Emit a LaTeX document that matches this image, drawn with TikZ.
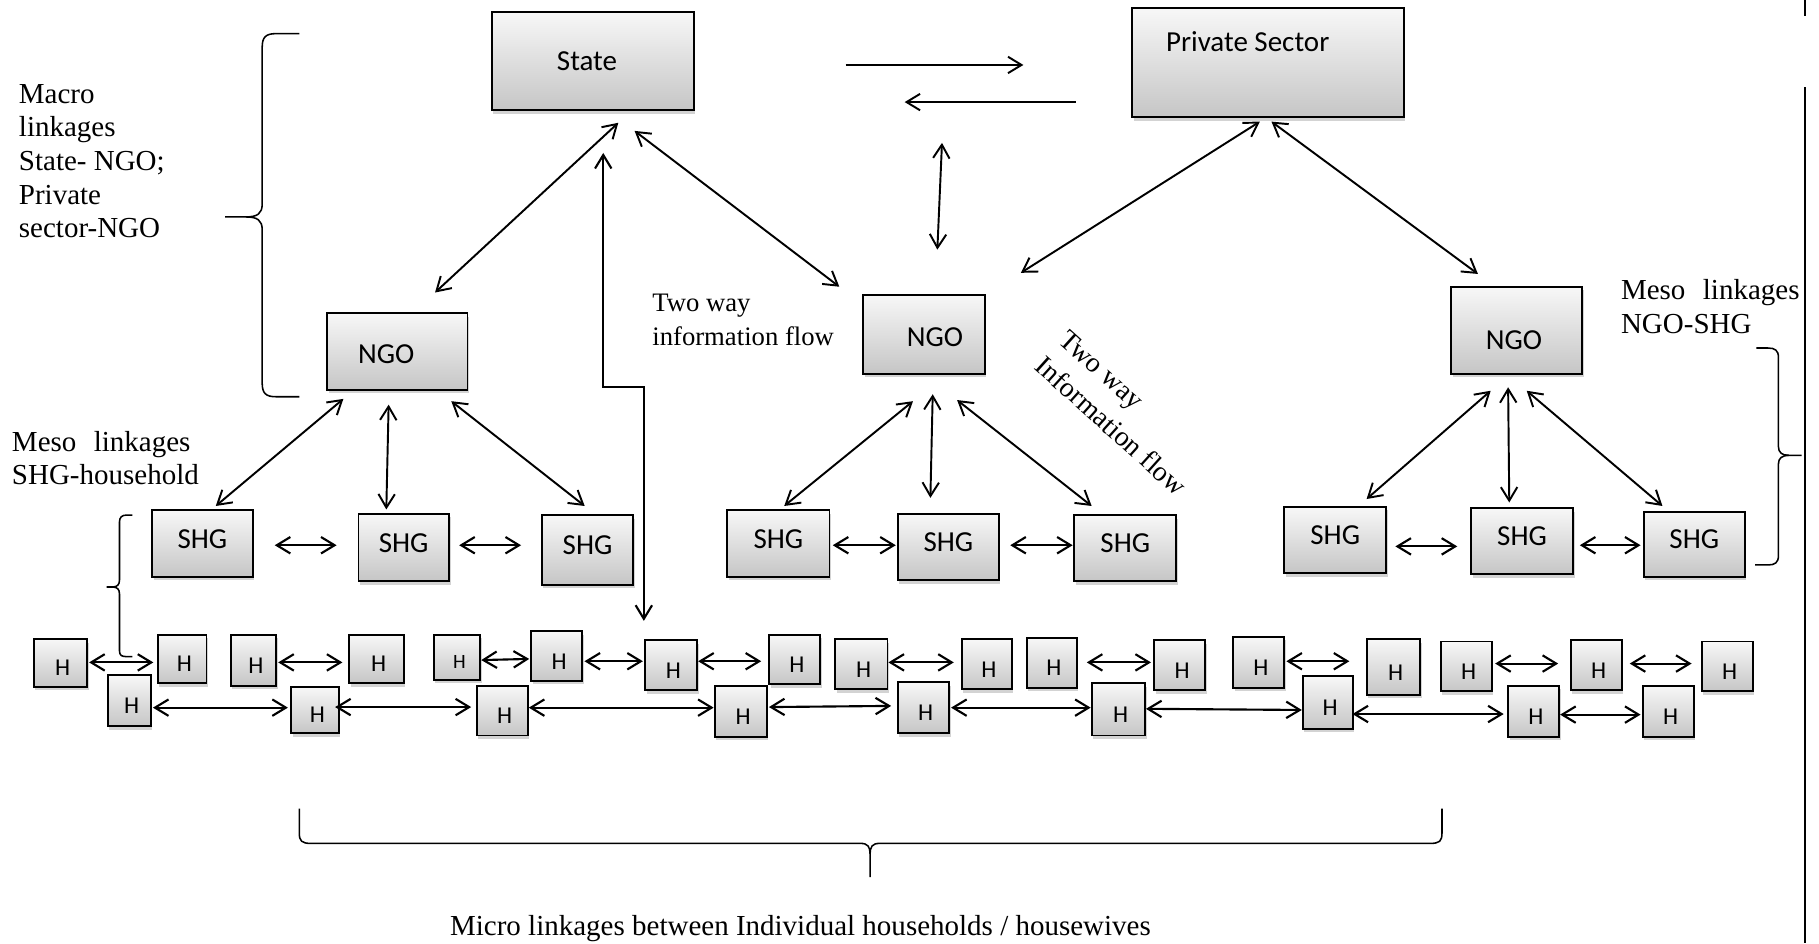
\documentclass[tikz,border=0pt]{standalone}
\usepackage{fontspec}
\setmainfont{Liberation Serif}
\newfontfamily\calfont{Carlito}
\usetikzlibrary{arrows.meta,shadows,fit,calc}
\begin{document}
\begin{tikzpicture}[x=0.6pt,y=-0.6pt,
 box/.style={draw=black, line width=1pt, top color=gray!6, bottom color=gray!45, inner sep=0pt,
   drop shadow={opacity=0.35, shadow xshift=0.8pt, shadow yshift=-1.8pt}},
 btext/.style={font=\calfont\fontsize{15}{18}\selectfont, inner sep=0pt},
 htext/.style={font=\calfont\fontsize{12.5}{15}\selectfont, inner sep=0pt, xshift=1.2pt, yshift=-2.7pt},
 hbox/.style={box, label={[htext]center:H}},
 shgbox/.style={box, label={[btext, yshift=2.4pt]center:SHG}},
 dbl/.style={{Straight Barb[length=7pt,width=8.5pt]}-{Straight Barb[length=7pt,width=8.5pt]}, line width=1pt},
 sgl/.style={-{Straight Barb[length=7pt,width=8.5pt]}, line width=1pt},
 hdbl/.style={dbl, line width=1.1pt},
 brc/.style={line width=0.8pt},
 border/.style={line width=1pt},
 serif/.style={font=\fontsize{15}{17.4}\selectfont, align=left, inner sep=0pt},
 serifs/.style={font=\fontsize{13.8}{17.4}\selectfont, align=left, inner sep=0pt},
]
\useasboundingbox (0,0) rectangle (1568,813);

% ---------- main boxes ----------
\node[box, fit={(424,10) (598,95)}, label={[btext, xshift=-3pt]center:State}] (state) {};
\node[box, fit={(976,7) (1210,101)}, label={[btext, xshift=-10.5pt, yshift=10.8pt]center:Private Sector}] (ps) {};
\node[box, fit={(282,270) (403,336)}, label={[btext, xshift=-5.7pt, yshift=-1.2pt]center:NGO}] (ngo1) {};
\node[box, fit={(744,254) (849,322)}, label={[btext, xshift=5.7pt, yshift=-1.8pt]center:NGO}] (ngo2) {};
\node[box, fit={(1251,247) (1364,322)}, label={[btext, xshift=-1.5pt, yshift=-5pt]center:NGO}] (ngo3) {};

% ---------- SHG boxes ----------
\node[shgbox, fit={(131,440) (218,497)}] (shg1) {};
\node[shgbox, fit={(309,443) (387,501)}] (shg2) {};
\node[shgbox, fit={(467,444) (546,504)}] (shg3) {};
\node[shgbox, fit={(627,440) (715,497)}] (shg4) {};
\node[shgbox, fit={(774,443) (861,500)}] (shg5) {};
\node[shgbox, fit={(926,444) (1014,501)}] (shg6) {};
\node[shgbox, fit={(1107,437) (1195,494)}] (shg7) {};
\node[shgbox, fit={(1268,438) (1356,495)}] (shg8) {};
\node[shgbox, fit={(1417,441) (1504,497)}] (shg9) {};

% ---------- H boxes, upper row ----------
\node[hbox, fit={(29,551) (75,592)}] (h1) {};
\node[hbox, fit={(136,547) (178,589)}] (h2) {};
\node[hbox, fit={(199,547) (238,591)}] (h3) {};
\node[hbox, fit={(301,547) (348,589)}] (h4) {};
\node[box, fit={(374,547) (414,586)}, label={[htext, font=\calfont\fontsize{10.5}{12}\selectfont]center:H}] (h5) {};
\node[hbox, fit={(458,544) (502,587)}] (h6) {};
\node[hbox, fit={(556,552) (601,595)}] (h7) {};
\node[hbox, fit={(663,547) (707,590)}] (h8) {};
\node[hbox, fit={(720,551) (765,594)}] (h9) {};
\node[hbox, fit={(829,551) (872,594)}] (h10) {};
\node[hbox, fit={(885,550) (928,593)}] (h11) {};
\node[hbox, fit={(995,552) (1039,595)}] (h12) {};
\node[hbox, fit={(1063,549) (1107,593)}] (h13) {};
\node[hbox, fit={(1178,551) (1224,599)}] (h14) {};
\node[hbox, fit={(1242,553) (1286,596)}] (h15) {};
\node[hbox, fit={(1354,552) (1398,595)}] (h16) {};
\node[hbox, fit={(1467,553) (1511,596)}] (h17) {};

% ---------- H boxes, lower row ----------
\node[hbox, fit={(93,582) (130,626)}] (b1) {};
\node[hbox, fit={(251,592) (292,632)}] (b2) {};
\node[hbox, fit={(411,591) (455,634)}] (b3) {};
\node[hbox, fit={(616,591) (661,635)}] (b4) {};
\node[hbox, fit={(774,588) (818,632)}] (b5) {};
\node[hbox, fit={(941,589) (987,634)}] (b6) {};
\node[hbox, fit={(1123,583) (1166,628)}] (b7) {};
\node[hbox, fit={(1300,591) (1344,635)}] (b8) {};
\node[hbox, fit={(1416,591) (1460,635)}] (b9) {};

% ---------- texts ----------
\node[serif, anchor=west] (macro) at (16,139) {Macro\\linkages\\State- NGO;\\Private\\sector-NGO};
\node[serif, anchor=west] (mesoL) at (10,395) {Meso\hspace{0.6em}linkages\\SHG-household};
\node[serif, anchor=west] (mesoR) at (1397,264) {Meso\hspace{0.6em}linkages\\NGO-SHG};
\node[serifs, anchor=west] (twoway) at (562,276) {Two way\\information flow};
\node[font=\fontsize{14.5}{18.5}\selectfont, align=left, inner sep=0pt, rotate=-42] (twoway2) at (968,356) {Two way\\Information flow};
\node[serif] (micro) at (690,800) {Micro linkages between Individual households / housewives};

% ---------- top-level connectors ----------
\draw[sgl] ($(state.east)+(130,3.5)$) -- ($(ps.west)+(-93,2)$);
\draw[sgl] ($(ps.west)+(-48,34)$) -- ($(state.east)+(181,35.5)$);
\draw[dbl] ($(ngo2.north)+(15.5,-130)$) -- ($(ngo2.north)+(11.5,-38)$);
\draw[dbl] ($(state.south)+(22,10)$) -- ($(ngo1.north)+(32.5,-17)$);
\draw[dbl] ($(state.south)+(36,17)$) -- ($(ngo2.north)+(-73,-6)$);
\draw[hdbl] ($(state.south)+(9,36)$) -- ++(0,202) -| ($(h7.north)+(-23.5,-16)$);
\draw[dbl] ($(ps.south)+(-7,3)$) -- ($(ngo2.north)+(83.5,-18)$);
\draw[dbl] ($(ps.south)+(3,3)$) -- ($(ngo3.north)+(-33.5,-10)$);

% ---------- NGO to SHG ----------
\draw[dbl] ($(ngo1.south)+(-46.5,7)$) -- ($(shg1.north)+(11.5,-3)$);
\draw[dbl] ($(ngo1.south)+(-7.5,12)$) -- ($(shg2.north)+(-15,-3)$);
\draw[dbl] ($(ngo1.south)+(46.5,9)$) -- ($(shg3.north)+(-2.5,-7)$);
\draw[dbl] ($(ngo2.south)+(-9.5,23)$) -- ($(shg4.north)+(5,-3)$);
\draw[dbl] ($(ngo2.south)+(7.5,17)$) -- ($(shg5.north)+(-15.5,-13)$);
\draw[dbl] ($(ngo2.south)+(28.5,22)$) -- ($(shg6.north)+(-29,-7)$);
\draw[dbl] ($(ngo3.south)+(-22.5,14)$) -- ($(shg7.north)+(27,-6)$);
\draw[dbl] ($(ngo3.south)+(-7.5,11)$) -- ($(shg8.north)+(-11,-4)$);
\draw[dbl] ($(ngo3.south)+(8.5,14)$) -- ($(shg9.north)+(-27.5,-4)$);

% ---------- SHG to SHG ----------
\draw[hdbl] ($(shg1.east)+(18,1.5)$) -- ($(shg2.west)+(-18,-2)$);
\draw[hdbl] ($(shg2.east)+(8,-2)$) -- ($(shg3.west)+(-17,-4)$);
\draw[hdbl] ($(shg4.east)+(2,1.5)$) -- ($(shg5.west)+(-1,-1.5)$);
\draw[hdbl] ($(shg5.east)+(9,-1.5)$) -- ($(shg6.west)+(-0.5,-2.5)$);
\draw[hdbl] ($(shg7.east)+(7,5.5)$) -- ($(shg8.west)+(-11,4.5)$);
\draw[hdbl] ($(shg8.east)+(5,3.5)$) -- ($(shg9.west)+(-2,1)$);

% ---------- H to H, upper row ----------
\draw[hdbl] ($(h1.east)+(1,-0.5)$) -- ($(h2.west)+(-3,3)$);
\draw[hdbl] ($(h3.east)+(1,2)$) -- ($(h4.west)+(-5,3)$);
\draw[hdbl] ($(h5.east)+(0,2.5)$) -- ($(h6.west)+(-1,2.5)$);
\draw[hdbl] ($(h6.east)+(1,4.5)$) -- ($(h7.west)+(-1,-3.5)$);
\draw[hdbl] ($(h7.east)+(0,-3.5)$) -- ($(h8.west)+(-6,1.5)$);
\draw[hdbl] ($(h9.east)+(0,-1.5)$) -- ($(h10.west)+(-6,-1.5)$);
\draw[hdbl] ($(h11.east)+(8,-0.5)$) -- ($(h12.west)+(-2,-2.5)$);
\draw[hdbl] ($(h13.east)+(1,-1)$) -- ($(h14.west)+(-14,-5)$);
\draw[hdbl] ($(h15.east)+(2,-2.5)$) -- ($(h16.west)+(-10,-1.5)$);
\draw[hdbl] ($(h16.east)+(6,-1.5)$) -- ($(h17.west)+(-8,-2.5)$);

% ---------- H to H, lower row ----------
\draw[hdbl] ($(b1.east)+(1,6)$) -- ($(b2.west)+(-2,-2)$);
\draw[hdbl] ($(b2.east)+(-4,-2.5)$) -- ($(b3.west)+(-4,-3)$);
\draw[hdbl] ($(b3.east)+(0,-2.5)$) -- ($(b4.west)+(0,-3)$);
\draw[hdbl] ($(b4.east)+(1,-3.5)$) -- ($(b5.west)+(-5,-1.5)$);
\draw[hdbl] ($(b5.east)+(1,0)$) -- ($(b6.west)+(0,-1.5)$);
\draw[hdbl] ($(b6.east)+(0,-0.5)$) -- ($(b7.west)+(0,6.5)$);
\draw[hdbl] ($(b7.east)+(-1,10)$) -- ($(b8.west)+(-3,2.5)$);
\draw[hdbl] ($(b8.east)+(0,3)$) -- ($(b9.west)+(-1,3)$);

% ---------- braces ----------
\draw[brc] (258,29) -- (238,29) .. controls (229,29) and (226,32) .. (226,41) -- (226,176)
  .. controls (226,184) and (222,187) .. (212,187) -- (194,187);
\draw[brc] (212,187) .. controls (222,187) and (226,190) .. (226,198) -- (226,330)
  .. controls (226,339) and (229,342) .. (238,342) -- (258,342);

\draw[brc] (114,444) -- (109,444) .. controls (105,444) and (103,446) .. (103,450) -- (103,500)
  .. controls (103,504) and (101,506) .. (97,506) -- (92,506);
\draw[brc] (97,506) .. controls (101,506) and (103,508) .. (103,512) -- (103,561)
  .. controls (103,565) and (105,566) .. (109,566) -- (114,566);

\draw[brc] (1514,300) -- (1524,300) .. controls (1530,300) and (1533,302) .. (1533,308) -- (1533,385)
  .. controls (1533,390) and (1536,392.5) .. (1542,392.5) -- (1553,392.5);
\draw[brc] (1542,392.5) .. controls (1536,392.5) and (1533,395) .. (1533,400) -- (1533,479)
  .. controls (1533,485) and (1530,487) .. (1524,487) -- (1513,487);

\draw[brc] (258,697) -- (258,718) .. controls (258,725) and (260,727) .. (268,727) -- (742,727)
  .. controls (748,727) and (750,730) .. (750,736) -- (750,756);
\draw[brc] (750,736) .. controls (750,730) and (752,727) .. (758,727) -- (1233,727)
  .. controls (1241,727) and (1243,725) .. (1243,718) -- (1243,697);

% ---------- right border ----------
\draw[border] (1556,0) -- (1556,14);
\draw[border] (1556,75) -- (1556,813);
\end{tikzpicture}
\end{document}
